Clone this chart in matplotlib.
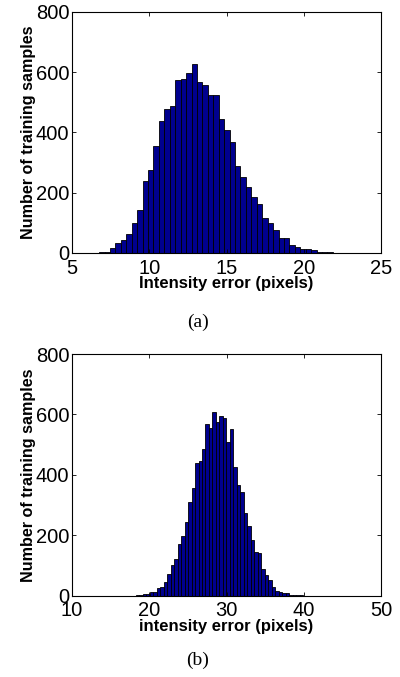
import numpy as np
import matplotlib
matplotlib.use("Agg")
import matplotlib.pyplot as plt

plt.rcParams['font.family'] = ['Liberation Sans', 'DejaVu Sans']

# (a) intensity error histogram, 50 bins
a_start = 6.4
a_width = 0.352
a_counts = [1, 2, 2, 15, 34, 43, 64, 101, 142, 240,
            276, 354, 439, 478, 487, 573, 577, 597, 628, 569,
            558, 523, 523, 446, 408, 369, 288, 253, 220, 187,
            164, 116, 99, 76, 50, 50, 27, 21, 13, 12,
            11, 4, 2, 2, 1, 1, 1, 0, 1, 1]

# (b) intensity error histogram, 50 bins
b_start = 18.24
b_width = 0.452
b_counts = [1, 2, 4, 7, 11, 13, 25, 30, 45, 73,
            101, 120, 171, 197, 243, 310, 355, 440, 446, 484,
            568, 554, 607, 576, 596, 587, 508, 551, 425, 366,
            342, 275, 232, 183, 144, 140, 90, 68, 51, 29,
            17, 13, 10, 8, 3, 2, 1, 1, 0, 0]

panels = [
    (a_start, a_width, a_counts, (5, 25), [5, 10, 15, 20, 25],
     'Intensity error (pixels)', '(a)'),
    (b_start, b_width, b_counts, (10, 50), [10, 20, 30, 40, 50],
     'intensity error (pixels)', '(b)'),
]

fig = plt.figure(figsize=(4.0, 6.77), dpi=100)
rects = [[0.18, 0.6263, 0.7725, 0.356], [0.18, 0.1201, 0.7725, 0.357]]
cap_y = [1 - 322 / 677, 1 - 660 / 677]

for i, (start, width, counts, xlim, xticks, xlabel, cap) in enumerate(panels):
    ax = fig.add_axes(rects[i])
    centers = start + width * (np.arange(len(counts)) + 0.5)
    ax.bar(centers, counts, width=width, color='#00008F',
           edgecolor='black', linewidth=0.6)
    ax.set_xlim(*xlim)
    ax.set_ylim(0, 800)
    ax.set_xticks(xticks)
    ax.set_yticks([0, 200, 400, 600, 800])
    ax.tick_params(direction='in', length=3, width=0.6, labelsize=14.5,
                   top=True, right=True)
    ax.tick_params(axis='x', pad=4)
    ax.tick_params(axis='y', pad=2)
    for s in ax.spines.values():
        s.set_linewidth(0.8)
    ax.set_xlabel(xlabel, fontsize=12, fontweight='bold', labelpad=-1)
    ax.set_ylabel('Number of training samples', fontsize=11.6,
                  fontweight='bold', labelpad=0)
    fig.text(0.495, cap_y[i], cap, ha='center', va='center',
             fontsize=14, family='Liberation Serif')

fig.savefig('out.png', dpi=100)
